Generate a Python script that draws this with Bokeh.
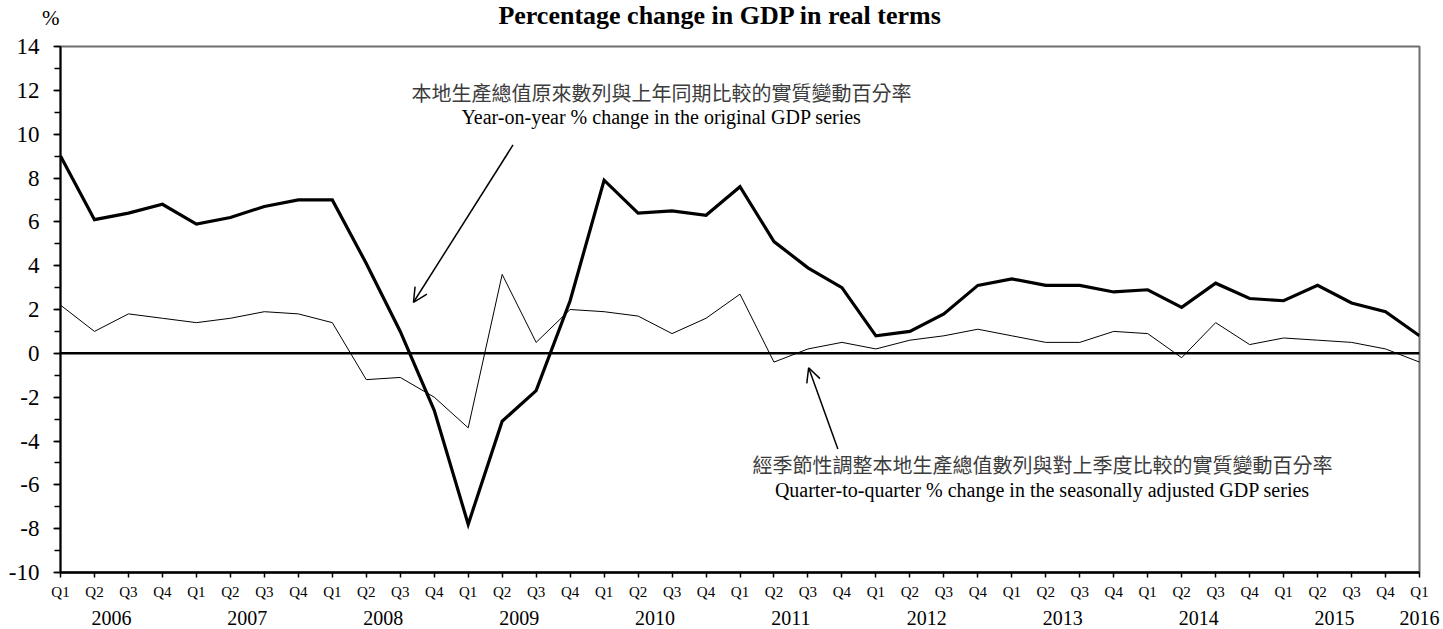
from bokeh.plotting import figure
from bokeh.models import (Range1d, FixedTicker, Span, Label, LinearAxis,
                          Arrow, OpenHead, ColumnDataSource)
from bokeh.embed import file_html
from bokeh.resources import INLINE

# ---------------- data ----------------
years = ["2006", "2007", "2008", "2009", "2010", "2011", "2012", "2013", "2014", "2015", "2016"]
quarters = ["Q1", "Q2", "Q3", "Q4"] * 10 + ["Q1"]
quarter_year = [y for y in years[:-1] for _ in range(4)] + ["2016"]

y_ticks = [-10, -8, -6, -4, -2, 0, 2, 4, 6, 8, 10, 12, 14]
y_tick_labels = ["-10", "-8", "-6", "-4", "-2", "0", "2", "4", "6", "8", "10", "12", "14"]

yoy = [9.0, 6.1, 6.4, 6.8,
       5.9, 6.2, 6.7, 7.0,
       7.0, 4.1, 1.0, -2.6,
       -7.8, -3.1, -1.7, 2.4,
       7.9, 6.4, 6.5, 6.3,
       7.6, 5.1, 3.9, 3.0,
       0.8, 1.0, 1.8, 3.1,
       3.4, 3.1, 3.1, 2.8,
       2.9, 2.1, 3.2, 2.5,
       2.4, 3.1, 2.3, 1.9,
       0.8]

qoq = [2.2, 1.0, 1.8, 1.6,
       1.4, 1.6, 1.9, 1.8,
       1.4, -1.2, -1.1, -2.0,
       -3.4, 3.6, 0.5, 2.0,
       1.9, 1.7, 0.9, 1.6,
       2.7, -0.4, 0.2, 0.5,
       0.2, 0.6, 0.8, 1.1,
       0.8, 0.5, 0.5, 1.0,
       0.9, -0.2, 1.4, 0.4,
       0.7, 0.6, 0.5, 0.2,
       -0.4]

title_text = "Percentage change in GDP in real terms"
unit_text = "%"
yoy_zh = "本地生產總值原來數列與上年同期比較的實質變動百分率"
yoy_en = "Year-on-year % change in the original GDP series"
qoq_zh = "經季節性調整本地生產總值數列與對上季度比較的實質變動百分率"
qoq_en = "Quarter-to-quarter % change in the seasonally adjusted GDP series"

# ---------------- figure ----------------
idx = list(range(len(quarters)))
src = ColumnDataSource(dict(x=idx, yoy=yoy, qoq=qoq))

SERIF = "Liberation Serif"
CJK = "Noto Sans CJK TC"

p = figure(width=1440, height=629, output_backend="svg", toolbar_location=None,
           x_range=Range1d(0, len(quarters) - 1), y_range=Range1d(-10, 14),
           min_border_left=60, min_border_right=21, min_border_top=46, min_border_bottom=57)
p.background_fill_color = "white"
p.border_fill_color = "white"
p.outline_line_color = "#6e6e6e"
p.outline_line_width = 2
p.xgrid.visible = False
p.ygrid.visible = False

# y axis
ya = p.yaxis[0]
ya.ticker = FixedTicker(ticks=y_ticks, minor_ticks=list(range(-10, 15)))
ya.major_label_overrides = {t: s for t, s in zip(y_ticks, y_tick_labels)}
ya.axis_line_color = "black"
ya.axis_line_width = 2
ya.major_tick_in = 0
ya.major_tick_out = 7
ya.minor_tick_in = 0
ya.minor_tick_out = 6
ya.major_tick_line_color = "black"
ya.minor_tick_line_color = "black"
ya.major_tick_line_width = 1.5
ya.minor_tick_line_width = 1.5
ya.major_label_text_font = SERIF
ya.major_label_text_font_size = "23px"
ya.major_label_text_color = "black"
ya.major_label_standoff = 14

# x axis (quarters)
xa = p.xaxis[0]
xa.ticker = FixedTicker(ticks=idx)
xa.major_label_overrides = {i: q for i, q in zip(idx, quarters)}
xa.axis_line_color = "black"
xa.axis_line_width = 2.5
xa.major_tick_in = 0
xa.major_tick_out = 5
xa.minor_tick_out = 0
xa.minor_tick_in = 0
xa.major_tick_line_color = "black"
xa.major_tick_line_width = 1.5
xa.major_label_text_font = SERIF
xa.major_label_text_font_size = "15px"
xa.major_label_text_color = "black"
xa.major_label_standoff = 6

# x axis (years, centred on each year's quarters)
year_pos = []
for yr in years:
    pos = [i for i, y in enumerate(quarter_year) if y == yr]
    year_pos.append(sum(pos) / len(pos))
ya2 = LinearAxis(ticker=FixedTicker(ticks=year_pos),
                 major_label_overrides={p_: yr for p_, yr in zip(year_pos, years)})
ya2.axis_line_color = None
ya2.major_tick_line_color = None
ya2.minor_tick_line_color = None
ya2.major_tick_in = 0
ya2.major_tick_out = 0
ya2.major_label_standoff = 8
ya2.major_label_text_font = SERIF
ya2.major_label_text_font_size = "20px"
ya2.major_label_text_color = "black"
p.add_layout(ya2, "below")

# zero line
p.add_layout(Span(location=0, dimension="width", line_color="black", line_width=2.5))

# series
p.line("x", "qoq", source=src, line_color="black", line_width=1)
p.line("x", "yoy", source=src, line_color="black", line_width=3.2, line_join="miter")

# title and unit (placed in side panels so they are not clipped by the frame)
px_per_unit = 526 / 24.0
def py_to_data(py):
    return (352.8 - py) / px_per_unit

p.add_layout(Label(x=19.42, y=py_to_data(15), text=title_text, text_align="center",
                   text_baseline="middle", text_font=SERIF, text_font_size="26px",
                   text_font_style="bold", text_color="black"), "above")
p.add_layout(Label(x=-0.29, y=py_to_data(17), text=unit_text, text_align="center",
                   text_baseline="middle", text_font=SERIF, text_font_size="21px",
                   text_color="black"), "right")

# annotations
p.add_layout(Label(x=17.69, y=11.91, text=yoy_zh, text_align="center", text_baseline="middle",
                   text_font=CJK, text_font_size="20px", text_color="#3c3c3c"))
p.add_layout(Label(x=17.69, y=10.77, text=yoy_en, text_align="center", text_baseline="middle",
                   text_font=SERIF, text_font_size="20px", text_color="black"))
p.add_layout(Label(x=28.9, y=-5.08, text=qoq_zh, text_align="center", text_baseline="middle",
                   text_font=CJK, text_font_size="20px", text_color="#3c3c3c"))
p.add_layout(Label(x=28.9, y=-6.22, text=qoq_en, text_align="center", text_baseline="middle",
                   text_font=SERIF, text_font_size="20px", text_color="black"))

p.add_layout(Arrow(end=OpenHead(size=14, line_width=1.5, line_color="black"),
                   x_start=13.32, y_start=9.51, x_end=10.39, y_end=2.33,
                   line_color="black", line_width=1.5))
p.add_layout(Arrow(end=OpenHead(size=14, line_width=1.5, line_color="black"),
                   x_start=22.88, y_start=-4.36, x_end=22.02, y_end=-0.66,
                   line_color="black", line_width=1.5))

open("out.html", "w").write(file_html(p, INLINE))
